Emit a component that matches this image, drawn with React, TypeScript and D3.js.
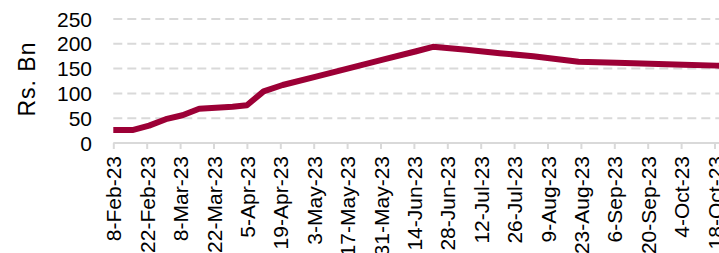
import React, { useEffect, useRef } from 'react';
import * as d3 from 'd3';

// Series (date, Rs. Bn)
const dates: string[] = [
  '2023-02-08', '2023-02-16', '2023-02-23', '2023-03-02', '2023-03-09', '2023-03-16',
  '2023-03-23', '2023-03-30', '2023-04-05', '2023-04-12', '2023-04-20', '2023-05-04',
  '2023-05-18', '2023-06-01', '2023-06-15', '2023-06-22', '2023-07-06', '2023-07-20',
  '2023-08-03', '2023-08-22', '2023-09-07', '2023-09-21', '2023-10-05', '2023-10-19',
  '2023-10-26',
];
const values: number[] = [
  26, 26, 35, 48, 56, 69,
  71, 73, 76, 104, 117, 134,
  151, 168, 185, 194, 188, 181,
  175, 164, 162, 160, 158, 156,
  155,
];

const tickStart = '2023-02-08';
const tickCount = 20; // fortnightly ticks
const yTicks: number[] = [0, 50, 100, 150, 200, 250];

const W = 719;
const H = 253;
const FONT = 'Arial, "Liberation Sans", sans-serif';
const LINE = '#9c0036';
const GRID = '#d9d9d9';

const App: React.FC = () => {
  const svgRef = useRef<SVGSVGElement>(null);

  useEffect(() => {
    if (!svgRef.current) return;
    const svg = d3.select(svgRef.current);
    svg.selectAll('*').remove();

    const parse = d3.timeParse('%Y-%m-%d');
    const data = dates.map((d, i) => ({ date: parse(d)!, value: values[i] }));

    const t0 = parse(tickStart)!;
    const tickDates = d3.range(tickCount).map(i => d3.timeDay.offset(t0, i * 14));

    // 14 days -> 33.4 px, first tick at x=113.3
    const x = d3.scaleTime()
      .domain([t0, d3.timeDay.offset(t0, 14)])
      .range([113.3, 146.7]);
    const y = d3.scaleLinear().domain([0, 250]).range([143, 19]);

    // gridlines
    svg.append('g')
      .selectAll('line')
      .data(yTicks.filter(v => v > 0))
      .enter()
      .append('line')
      .attr('x1', x(t0))
      .attr('x2', W + 20)
      .attr('y1', d => y(d))
      .attr('y2', d => y(d))
      .attr('stroke', GRID)
      .attr('stroke-width', 2)
      .attr('stroke-dasharray', '9,5');

    // y tick labels
    svg.append('g')
      .selectAll('text')
      .data(yTicks)
      .enter()
      .append('text')
      .attr('x', 92)
      .attr('y', d => y(d))
      .attr('dy', '0.36em')
      .attr('text-anchor', 'end')
      .attr('font-family', FONT)
      .attr('font-size', 21)
      .attr('fill', '#000')
      .text(d => d);

    // y axis title
    svg.append('text')
      .attr('transform', 'translate(35,79) rotate(-90)')
      .attr('text-anchor', 'middle')
      .attr('font-family', FONT)
      .attr('font-size', 23)
      .attr('letter-spacing', 1)
      .attr('fill', '#000')
      .text('Rs. Bn');

    // x axis
    const xAxis = d3.axisBottom<Date>(x)
      .tickValues(tickDates)
      .tickSize(6)
      .tickSizeOuter(0)
      .tickFormat(d => d3.timeFormat('%-d-%b-%y')(d as Date));

    const gx = svg.append('g')
      .attr('transform', `translate(0,${y(0)})`)
      .call(xAxis);
    gx.select('.domain')
      .attr('stroke', GRID)
      .attr('stroke-width', 2)
      .attr('d', `M${x(t0)},0H${W + 20}`);
    gx.selectAll('.tick line').attr('stroke', GRID).attr('stroke-width', 2);
    gx.selectAll('.tick text')
      .attr('font-family', FONT)
      .attr('font-size', 21)
      .attr('fill', '#000')
      .attr('text-anchor', 'end')
      .attr('transform', 'rotate(-90)')
      .attr('x', -13)
      .attr('y', 0)
      .attr('dy', '0.36em');

    // line
    const line = d3.line<{ date: Date; value: number }>()
      .x(d => x(d.date))
      .y(d => y(d.value));

    svg.append('path')
      .datum(data)
      .attr('fill', 'none')
      .attr('stroke', LINE)
      .attr('stroke-width', 6)
      .attr('stroke-linejoin', 'round')
      .attr('d', line);
  }, []);

  return (
    <svg
      ref={svgRef}
      width={W}
      height={H}
      style={{ position: 'absolute', left: 0, top: 0, background: '#fff' }}
    />
  );
};

export default App;
